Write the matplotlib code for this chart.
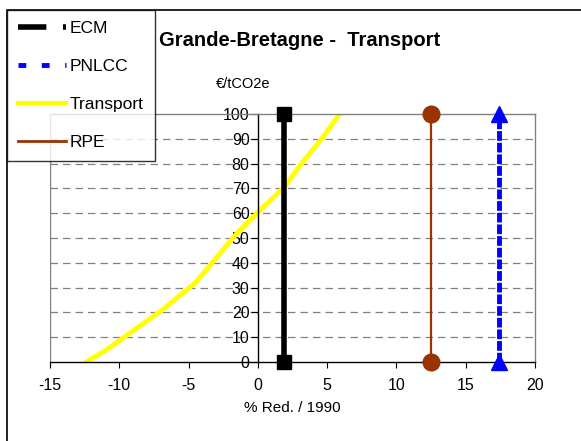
import numpy as np
import matplotlib.pyplot as plt
from matplotlib.lines import Line2D
from matplotlib.patches import Rectangle

plt.rcParams['font.family'] = ['Liberation Sans', 'DejaVu Sans']
plt.rcParams['axes.unicode_minus'] = False

# Séries
ecm_x = [1.9, 1.9]
ecm_y = [0, 100]
rpe_x = [12.5, 12.5]
rpe_y = [0, 100]
pnlcc_x = [17.4, 17.4]
pnlcc_y = [0, 100]
transport_x = [-12.4, -10.9, -6.9, -4.5, -1.5, 0.3, 2.0, 3.0, 4.6, 5.9]
transport_y = [0, 5, 21, 32, 52, 62, 71, 79, 90, 100]

xticks = [-15, -10, -5, 0, 5, 10, 15, 20]
yticks = [0, 10, 20, 30, 40, 50, 60, 70, 80, 90, 100]

fig = plt.figure(figsize=(5.81, 4.41), dpi=100)
ax = fig.add_axes([50 / 581, 1 - 362 / 441, 485 / 581, 248 / 441])

# cadre du graphique
fig.add_artist(Rectangle((7 / 581, -0.1), 1.2, 1 - 10 / 441 + 0.1,
                         transform=fig.transFigure, fill=False,
                         edgecolor='black', lw=1.2))

ax.set_xlim(-15, 20)
ax.set_ylim(0, 100)

# grille horizontale
for y in yticks[1:-1]:
    ax.axhline(y, color='#808080', lw=0.9, ls=(0, (6, 4)), zorder=0)

ax.plot(transport_x, transport_y, color='#ffff00', lw=3.5, zorder=2,
        solid_capstyle='round')
ax.plot(ecm_x, ecm_y, color='black', lw=4, marker='s', ms=10,
        clip_on=False, zorder=3)
ax.plot(rpe_x, rpe_y, color='#993300', lw=1.6, marker='o', ms=12,
        clip_on=False, zorder=3)
ax.plot(pnlcc_x, pnlcc_y, color='#0000ff', lw=3.5, ls=(0, (2, 0.4)),
        marker='^', ms=11, clip_on=False, zorder=3)

# axes croisés à zéro, style tableur
ax.spines['left'].set_position(('data', 0))
ax.spines['left'].set_color('black')
ax.spines['bottom'].set_color('black')
ax.spines['top'].set_color('#808080')
ax.spines['right'].set_color('#808080')
for s in ax.spines.values():
    s.set_linewidth(1.0)
ax.axvline(-15, color='#808080', lw=1.0, zorder=0)

ax.set_xticks(xticks)
ax.set_yticks(yticks)
ax.tick_params(axis='x', direction='out', length=4.3, labelsize=11.5, pad=7)
ax.tick_params(axis='y', direction='out', length=5, labelsize=11.5, pad=1)

ax.set_xlabel('% Red. / 1990', fontsize=11, labelpad=6)
fig.text(243 / 581, 1 - 84 / 441, '€/tCO2e', fontsize=10.5,
         ha='center', va='center')
fig.text(300 / 581, 1 - 41 / 441, 'Grande-Bretagne -  Transport',
         fontsize=14.5, fontweight='bold', ha='center', va='center')

# légende
handles = [
    Line2D([], [], color='black', lw=4, dashes=(5.1, 3, 1.1, 10)),
    Line2D([], [], color='#0000ff', lw=3.5, dashes=(1.6, 3.2)),
    Line2D([], [], color='#ffff00', lw=3),
    Line2D([], [], color='#993300', lw=2),
]
labels = ['ECM', 'PNLCC', 'Transport', 'RPE']
leg = fig.legend(handles, labels, loc='upper left',
                 bbox_to_anchor=(7 / 581, 1 - 10 / 441),
                 fontsize=12.5, frameon=True, fancybox=False,
                 borderpad=0.65, labelspacing=1.3, handlelength=2.75,
                 handletextpad=0.2, borderaxespad=0)
leg.get_frame().set_edgecolor('black')
leg.get_frame().set_linewidth(1.0)

fig.savefig('out.png', dpi=100)
